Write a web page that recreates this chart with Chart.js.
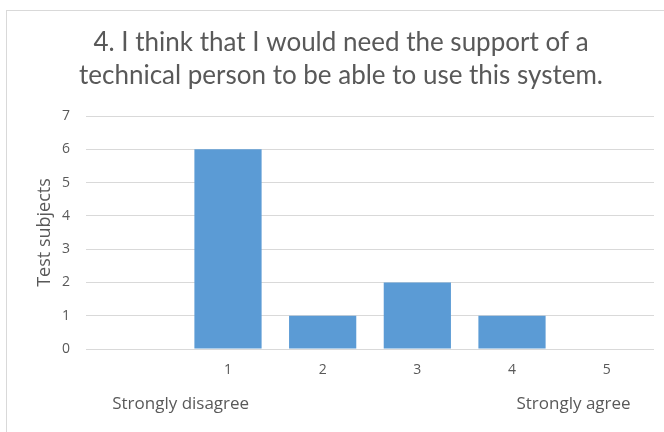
<!DOCTYPE html>
<html>
<head>
<meta charset="utf-8">
<script src="https://cdn.jsdelivr.net/npm/chart.js@4"></script>
<style>
  html, body { margin: 0; padding: 0; background: #fff; }
  #wrap { position: relative; width: 664px; height: 432px; overflow: hidden; }
  #frame { position: absolute; left: 6px; top: 10px; width: 700px; height: 500px; border: 1px solid #d9d9d9; box-sizing: border-box; }
  canvas { position: absolute; left: 0; top: 0; }
</style>
</head>
<body>
<div id="wrap">
  <div id="frame"></div>
  <canvas id="c" width="664" height="432"></canvas>
</div>
<script>
const titleLines = ['4. I think that I would need the support of a', 'technical person to be able to use this system.'];
const categories = ['', '1', '2', '3', '4', '5'];
const testSubjects = [null, 6, 1, 2, 1, 0];
const yTicks = [0, 1, 2, 3, 4, 5, 6, 7];
const yAxisTitle = 'Test subjects';
const scaleEndLabels = ['Strongly disagree', 'Strongly agree'];

const textColor = '#595959';
const titleFont = 'Lato, "Open Sans", sans-serif';
const bodyFont = '"Open Sans", "Noto Sans", sans-serif';

const endLabelsPlugin = {
  id: 'endLabels',
  afterDraw(chart) {
    const x = chart.scales.x;
    const ctx = chart.ctx;
    ctx.save();
    ctx.fillStyle = textColor;
    ctx.font = '17px ' + bodyFont;
    ctx.textBaseline = 'middle';
    ctx.textAlign = 'center';
    const y = x.top + 55;
    const p0 = (x.getPixelForValue(0) + x.getPixelForValue(1)) / 2;
    ctx.fillText(scaleEndLabels[0], p0, y);
    const p1 = x.getPixelForValue(4) + (x.getPixelForValue(5) - x.getPixelForValue(4)) * 0.65;
    ctx.fillText(scaleEndLabels[1], p1, y);
    ctx.restore();
  }
};

new Chart(document.getElementById('c'), {
  type: 'bar',
  data: {
    labels: categories,
    datasets: [{
      data: testSubjects,
      backgroundColor: '#5b9bd5',
      borderWidth: 0,
      categoryPercentage: 1,
      barPercentage: 0.71
    }]
  },
  options: {
    responsive: false,
    animation: false,
    layout: { padding: { left: 28, right: 10, top: 26, bottom: 0 } },
    plugins: {
      legend: { display: false },
      tooltip: { enabled: false },
      title: {
        display: true,
        text: titleLines,
        color: textColor,
        font: { family: titleFont, size: 26, weight: 'normal', lineHeight: 1.27 },
        padding: { top: 0, bottom: 24 }
      }
    },
    scales: {
      x: {
        grid: { display: false, drawTicks: false },
        border: { display: false },
        ticks: { color: textColor, font: { family: bodyFont, size: 14 }, padding: 13 },
        afterFit(scale) { scale.height = 83; }
      },
      y: {
        min: 0,
        max: 7,
        afterBuildTicks(scale) { scale.ticks = yTicks.map(v => ({ value: v })); },
        grid: { color: '#d9d9d9', drawTicks: false },
        border: { display: false },
        ticks: { color: textColor, font: { family: bodyFont, size: 14 }, padding: 16 },
        title: { display: true, text: yAxisTitle, color: textColor, font: { family: bodyFont, size: 18 }, padding: { top: 6, bottom: 0 } },
        afterFit(scale) { scale.width = 58; }
      }
    }
  },
  plugins: [endLabelsPlugin]
});
</script>
</body>
</html>
